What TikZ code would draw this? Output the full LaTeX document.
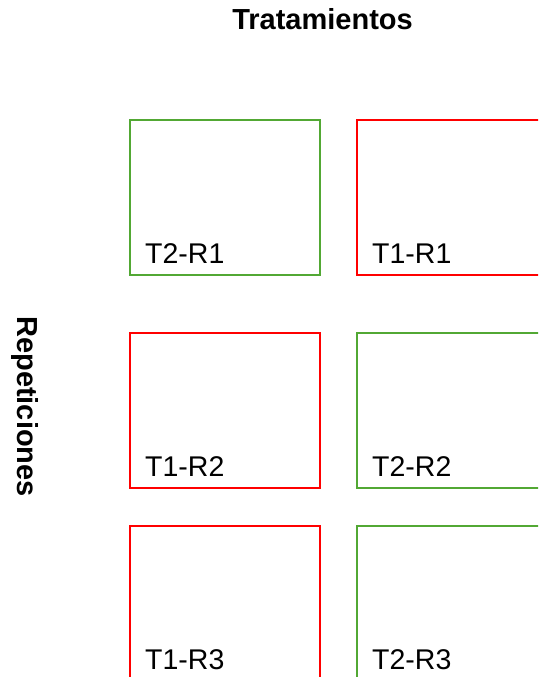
\documentclass[tikz,border=0pt]{standalone}
\usepackage{fontspec}
\setmainfont{Liberation Sans}
\usetikzlibrary{positioning}
\definecolor{plotgreen}{RGB}{82,168,52}
\definecolor{plotred}{RGB}{255,0,0}
\tikzstyle{plot} = [rectangle, line width=2pt, minimum width=190pt, minimum height=155pt, inner sep=0pt, outer sep=0pt]
\tikzstyle{tone} = [plot, draw=plotred]
\tikzstyle{ttwo} = [plot, draw=plotgreen]
\tikzstyle{tag} = [font=\fontsize{28.5}{34}\selectfont, anchor=base west, inner sep=0pt]
\tikzstyle{heading} = [font=\bfseries\fontsize{29}{34}\selectfont, inner sep=0pt]

\begin{document}
\begin{tikzpicture}[x=1pt,y=1pt]
\useasboundingbox (0,0) rectangle (538,-677);
\clip (0,0) rectangle (538,-677);
\node (head) [heading, anchor=base] at (322.5,-30) {Tratamientos};
\node (side) [heading, rotate=-90] at (25,-406.5) {Repeticiones};

\node (t2r1) [ttwo, anchor=north west] at (130,-120) {};
\node (t1r1) [tone, right=37pt of t2r1] {};
\node (t1r2) [tone, below=58pt of t2r1] {};
\node (t2r2) [ttwo, right=37pt of t1r2] {};
\node (t1r3) [tone, below=38pt of t1r2] {};
\node (t2r3) [ttwo, right=37pt of t1r3] {};

\node (l21) [tag] at ([xshift=15pt,yshift=12pt]t2r1.south west) {T2-R1};
\node (l11) [tag] at ([xshift=15pt,yshift=12pt]t1r1.south west) {T1-R1};
\node (l12) [tag] at ([xshift=15pt,yshift=12pt]t1r2.south west) {T1-R2};
\node (l22) [tag] at ([xshift=15pt,yshift=12pt]t2r2.south west) {T2-R2};
\node (l13) [tag] at ([xshift=15pt,yshift=12pt]t1r3.south west) {T1-R3};
\node (l23) [tag] at ([xshift=15pt,yshift=12pt]t2r3.south west) {T2-R3};

\end{tikzpicture}
\end{document}
